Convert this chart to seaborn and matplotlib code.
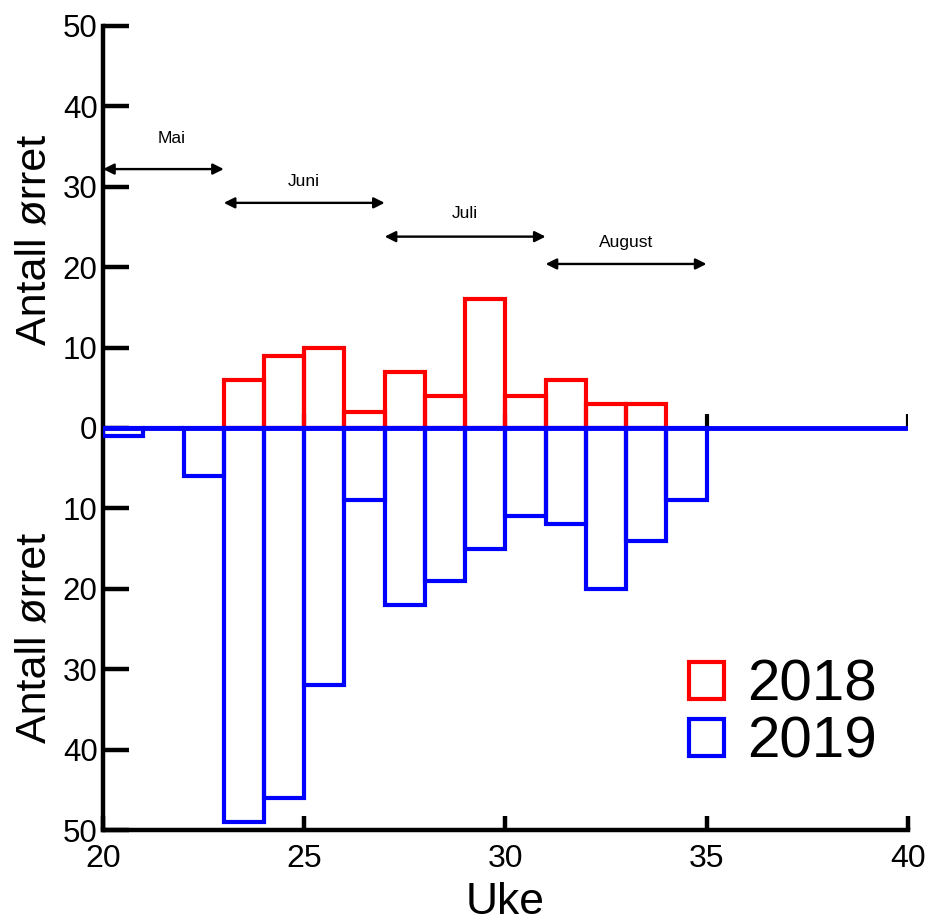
import numpy as np
import pandas as pd
import matplotlib
matplotlib.use("Agg")
import matplotlib.pyplot as plt
from matplotlib.patches import Patch
from matplotlib import font_manager as fm
import seaborn as sns

# ---- data ----
weeks_2018 = [23, 24, 25, 26, 27, 28, 29, 30, 31, 32, 33]
count_2018 = [6, 9, 10, 2, 7, 4, 16, 4, 6, 3, 3]
weeks_2019 = [20, 21, 22, 23, 24, 25, 26, 27, 28, 29, 30, 31, 32, 33, 34]
count_2019 = [1, 0, 6, 49, 46, 32, 9, 22, 19, 15, 11, 12, 20, 14, 9]
months = ["Mai", "Juni", "Juli", "August"]
month_start = [20, 23, 27, 31]
month_end = [23, 27, 31, 35]
month_arrow_y = [32.2, 28.0, 23.8, 20.4]
month_label_y = [36.0, 30.6, 26.7, 23.1]
yticks = [-50, -40, -30, -20, -10, 0, 10, 20, 30, 40, 50]
xticks = [20, 25, 30, 35, 40]

sns.set_style("ticks")
names = {f.name for f in fm.fontManager.ttflist}
base = "Liberation Sans" if "Liberation Sans" in names else "DejaVu Sans"
narrow = "Liberation Sans Narrow" if "Liberation Sans Narrow" in names else base
plt.rcParams["font.family"] = [base, "DejaVu Sans"]
plt.rcParams.update({"text.color": "black", "axes.labelcolor": "black",
                     "xtick.color": "black", "ytick.color": "black"})

fig = plt.figure(figsize=(9.29, 9.24), dpi=100)
ax = fig.add_axes([0.111, 0.1017, 0.866, 0.8702])

df18 = pd.DataFrame({"week": np.array(weeks_2018) + 0.5, "n": count_2018})
df19 = pd.DataFrame({"week": np.array(weeks_2019) + 0.5, "n": -np.array(count_2019)})

sns.histplot(data=df18, x="week", weights="n", binwidth=1,
             binrange=(min(weeks_2018), max(weeks_2018) + 1),
             fill=False, color="red", linewidth=3, ax=ax, zorder=3)
sns.histplot(data=df19, x="week", weights="n", binwidth=1,
             binrange=(min(weeks_2019), max(weeks_2019) + 1),
             fill=False, color="blue", linewidth=3, ax=ax, zorder=4)
for p in ax.patches:
    p.set_edgecolor(p.get_edgecolor()[:3] + (1.0,))

ax.vlines(xticks[1:], 0, 1.7, color="black", lw=3, zorder=2)
ax.axhline(0, color="blue", lw=3.5, zorder=5)

for m, s, e, ya, yl in zip(months, month_start, month_end, month_arrow_y, month_label_y):
    ax.annotate("", xy=(e, ya), xytext=(s, ya),
                arrowprops=dict(arrowstyle="<|-|>", color="black", lw=1.7,
                                mutation_scale=16, shrinkA=0, shrinkB=0))
    ax.text((s + e) / 2 if m != "Mai" else 21.7, yl, m, ha="center", va="center",
            fontsize=12.5, color="black")

ax.set_xlim(20, 40)
ax.set_ylim(-50, 50)
ax.set_yticks(yticks)
ax.set_yticklabels([str(abs(v)) for v in yticks], fontsize=22.5)
ax.set_xticks(xticks)
ax.set_xticklabels([str(v) for v in xticks], fontsize=23, family=[narrow, base])
ax.set_xlabel("Uke", fontsize=32, family=[narrow, base], labelpad=6, color="black")
ax.set_ylabel("")

for side in ["top", "right"]:
    ax.spines[side].set_visible(False)
for side in ["left", "bottom"]:
    ax.spines[side].set_linewidth(3.2)
    ax.spines[side].set_color("black")
ax.tick_params(axis="y", direction="in", length=19, width=3.2, pad=4, colors="black")
ax.tick_params(axis="x", direction="in", length=10, width=3.2, pad=10, colors="black")

fig.text(0.037, 0.74, "Antall ørret", rotation=90, ha="center", va="center",
         fontsize=31, color="black")
fig.text(0.037, 0.31, "Antall ørret", rotation=90, ha="center", va="center",
         fontsize=31, color="black")

handles = [Patch(facecolor="none", edgecolor="red", lw=3),
           Patch(facecolor="none", edgecolor="blue", lw=3)]
leg = ax.legend(handles, ["2018", "2019"], loc="upper left",
                bbox_to_anchor=(0.704, 0.325), bbox_transform=fig.transFigure,
                frameon=False, fontsize=42, handlelength=0.6, handleheight=0.6,
                handletextpad=0.4, labelspacing=0.05, borderpad=0.1)
for t in leg.get_texts():
    t.set_color("black")

fig.savefig("out.png", dpi=100)
